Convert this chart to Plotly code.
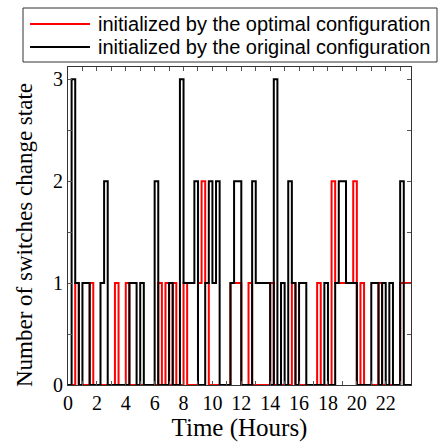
import plotly.graph_objects as go

# step change points (hour, value)
red_t = [0.00, 0.50, 0.75, 1.50, 1.75, 3.25, 3.50, 4.00, 4.25, 6.25, 6.50, 6.75, 7.00, 7.25, 7.50,
         8.00, 8.25, 9.00, 9.25, 9.50, 9.75, 11.25, 12.00, 12.50, 12.75, 14.00, 14.25, 15.50, 15.75,
         17.25, 17.50, 18.25, 18.50, 19.75, 20.00, 20.25, 20.50, 21.50, 21.75, 23.00, 23.75]
red_v = [0, 1, 0, 1, 0, 1, 0, 1, 0, 1, 0, 1, 0, 1, 0,
         1, 0, 1, 2, 1, 0, 1, 0, 1, 0, 1, 0, 1, 0,
         1, 0, 2, 1, 2, 0, 1, 0, 1, 0, 1, 1]

black_t = [0.00, 0.25, 0.50, 0.75, 1.00, 1.50, 2.25, 2.50, 2.75, 4.25, 4.75, 5.00, 5.25, 6.00, 6.25,
           7.00, 7.25, 7.75, 8.00, 8.75, 9.00, 9.50, 9.75, 10.00, 10.25, 10.50, 11.25, 11.50, 12.00,
           12.75, 13.00, 14.00, 14.25, 14.50, 14.75, 15.00, 15.25, 15.50, 15.75, 16.00, 16.50, 17.75,
           18.00, 18.50, 18.75, 19.25, 20.00, 21.00, 21.50, 21.75, 22.00, 22.25, 22.50, 23.00, 23.25, 23.75]
black_v = [0, 3, 1, 0, 1, 0, 1, 2, 0, 1, 0, 1, 0, 2, 0,
           1, 0, 3, 1, 2, 0, 1, 2, 1, 2, 0, 1, 2, 0,
           2, 1, 0, 3, 0, 1, 0, 2, 1, 0, 1, 0, 1,
           0, 1, 2, 1, 0, 1, 0, 1, 0, 1, 0, 2, 0, 0]

x_tickvals = list(range(0, 24))
x_ticktext = [str(h) if h % 2 == 0 else "" for h in x_tickvals]
y_tickvals = [0, 0.5, 1, 1.5, 2, 2.5, 3]
y_ticktext = ["0", "", "1", "", "2", "", "3"]

legend_names = ["initialized by the optimal configuration",
                "initialized by the original configuration"]
x_title = "Time (Hours)"
y_title = "Number of switches change state"

fig = go.Figure()
fig.add_trace(go.Scatter(x=red_t, y=red_v, mode="lines", line=dict(color="#ff0000", width=2, shape="hv"),
                         name=legend_names[0], showlegend=False))
fig.add_trace(go.Scatter(x=black_t, y=black_v, mode="lines", line=dict(color="#000000", width=2, shape="hv"),
                         name=legend_names[1], showlegend=False))

serif = "Liberation Serif, Times New Roman, serif"
sans = "Liberation Sans, Arial, sans-serif"

fig.update_layout(
    width=443, height=443,
    margin=dict(l=68, r=32, t=67, b=58),
    paper_bgcolor="white", plot_bgcolor="white",
    font=dict(family=serif, size=20, color="black"),
    xaxis=dict(range=[0, 23.75], tickvals=x_tickvals, ticktext=x_ticktext,
               ticks="inside", ticklen=4, tickcolor="#555", showgrid=False, zeroline=False,
               showline=True, linecolor="#333", linewidth=1, mirror="ticks",
               tickfont=dict(family=serif, size=20), automargin=False,
               title=dict(text=x_title, font=dict(family=serif, size=25), standoff=2)),
    yaxis=dict(range=[0, 3.12], tickvals=y_tickvals, ticktext=y_ticktext,
               ticks="inside", ticklen=4, tickcolor="#555", showgrid=False, zeroline=False,
               showline=True, linecolor="#333", linewidth=1, mirror="ticks",
               tickfont=dict(family=serif, size=20), automargin=False),
)

def px2x(px):
    return (px - 68) / 343.0

def py2y(py):
    return (385 - py) / 318.0

# y-axis title as rotated text
fig.add_annotation(xref="paper", yref="paper", x=px2x(24), y=py2y(235), text=y_title, textangle=-90,
                   showarrow=False, xanchor="center", yanchor="middle",
                   font=dict(family=serif, size=23, color="black"))

# manual legend (box, line samples, labels)
fig.add_shape(type="rect", xref="paper", yref="paper", x0=px2x(23), x1=px2x(437), y0=py2y(62), y1=py2y(8),
              line=dict(color="#333", width=1), fillcolor="white", layer="above")
for i, (col, py) in enumerate([("#ff0000", 24), ("#000000", 47)]):
    fig.add_shape(type="line", xref="paper", yref="paper", x0=px2x(30), x1=px2x(90), y0=py2y(py), y1=py2y(py),
                  line=dict(color=col, width=2), layer="above")
    fig.add_annotation(xref="paper", yref="paper", x=px2x(96), y=py2y(py), text=legend_names[i],
                       showarrow=False, xanchor="left", yanchor="middle",
                       font=dict(family=sans, size=20, color="black"))

fig.write_html("out.html")
